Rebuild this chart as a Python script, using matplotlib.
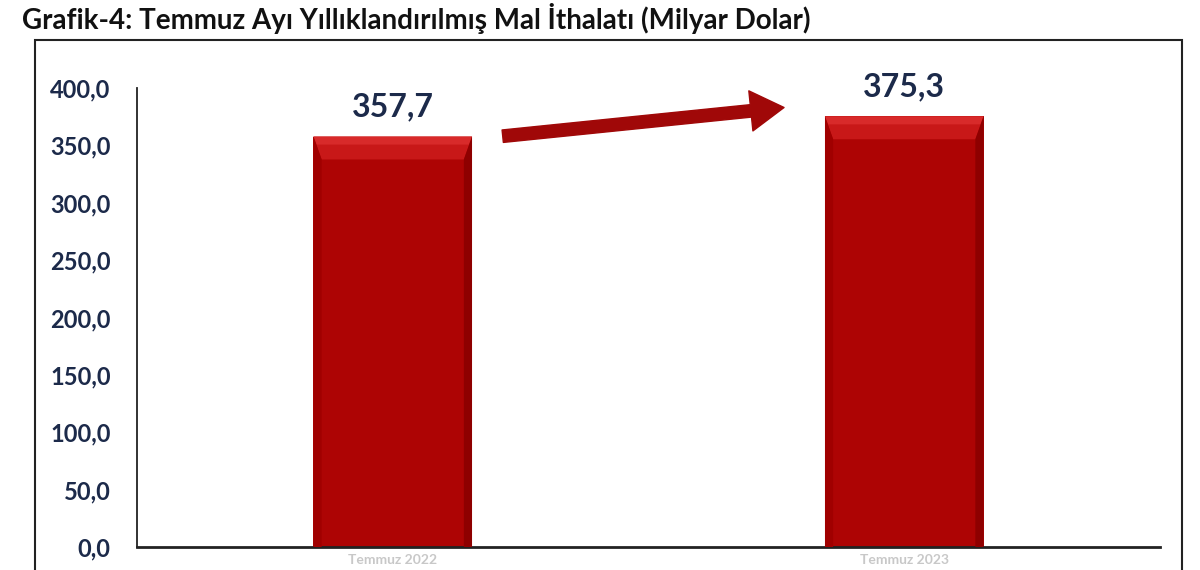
import matplotlib.pyplot as plt
from matplotlib.patches import Rectangle, Polygon

categories = ['Temmuz 2022', 'Temmuz 2023']
values = [357.7, 375.3]
value_labels = ['357,7', '375,3']
yticks = [0, 50, 100, 150, 200, 250, 300, 350, 400]
ytick_labels = ['0,0', '50,0', '100,0', '150,0', '200,0', '250,0', '300,0', '350,0', '400,0']

plt.rcParams['font.family'] = ['Lato', 'DejaVu Sans']
navy = '#1c2a4a'

fig = plt.figure(figsize=(12, 5.7), dpi=100)
fig.patch.set_facecolor('white')

# frame around the chart (bottom runs off the picture)
fig.patches.append(Rectangle((35 / 1200, -0.05), 1147 / 1200, (530 / 570) + 0.05,
                             transform=fig.transFigure, fill=False,
                             edgecolor='#222222', linewidth=1.5))

fig.text(22 / 1200, 1 - 19 / 570, 'Grafik-4: Temmuz Ayı Yıllıklandırılmış Mal İthalatı (Milyar Dolar)',
         fontsize=20, fontweight='bold', color='#111111', va='center', ha='left')

ax = fig.add_axes([137 / 1200, 23 / 570, 1023 / 1200, 459 / 570])
x = range(len(categories))
bars = ax.bar(x, values, width=0.31, color='#ad0404', edgecolor='none', zorder=2)

# bevel look: lighter top, darker sides
dx, dy = 0.016, 20
for b in bars:
    x0, w, h = b.get_x(), b.get_width(), b.get_height()
    x1 = x0 + w
    ax.add_patch(Polygon([(x0, h), (x1, h), (x1 - dx, h - dy), (x0 + dx, h - dy)],
                         facecolor='#c81818', edgecolor='none', zorder=3))
    ax.add_patch(Polygon([(x0, h), (x1, h), (x1 - dx * 0.4, h - dy * 0.35), (x0 + dx * 0.4, h - dy * 0.35)],
                         facecolor='#d82a2a', edgecolor='none', zorder=3))
    ax.add_patch(Polygon([(x1, h), (x1 - dx, h - dy), (x1 - dx, 0), (x1, 0)],
                         facecolor='#8e0000', edgecolor='none', zorder=3))
    ax.add_patch(Polygon([(x0, h), (x0 + dx, h - dy), (x0 + dx, 0), (x0, 0)],
                         facecolor='#a00000', edgecolor='none', zorder=3))

for i, v in enumerate(values):
    ax.text(i, v + 13, value_labels[i], ha='center', va='bottom', fontsize=23,
            fontweight='bold', color=navy)

ax.annotate('', xy=(0.765, 383), xytext=(0.215, 358),
            arrowprops=dict(arrowstyle='simple,head_length=2.4,head_width=2.9,tail_width=0.9',
                            color='#a00808', shrinkA=0, shrinkB=0))

ax.set_xlim(-0.5, 1.5)
ax.set_ylim(0, 400)
ax.set_yticks(yticks)
ax.set_yticklabels(ytick_labels, fontsize=17, fontweight='bold', color=navy)
ax.set_xticks(list(x))
ax.set_xticklabels(categories, fontsize=10, fontweight='bold', color='#c8c8c8')
ax.tick_params(axis='y', length=0, pad=19)
ax.tick_params(axis='x', length=0, pad=5)
ax.spines['top'].set_visible(False)
ax.spines['right'].set_visible(False)
ax.spines['left'].set_linewidth(1.3)
ax.spines['bottom'].set_linewidth(2)
ax.spines['left'].set_color('#222222')
ax.spines['bottom'].set_color('#222222')

fig.savefig('out.png', dpi=100)
